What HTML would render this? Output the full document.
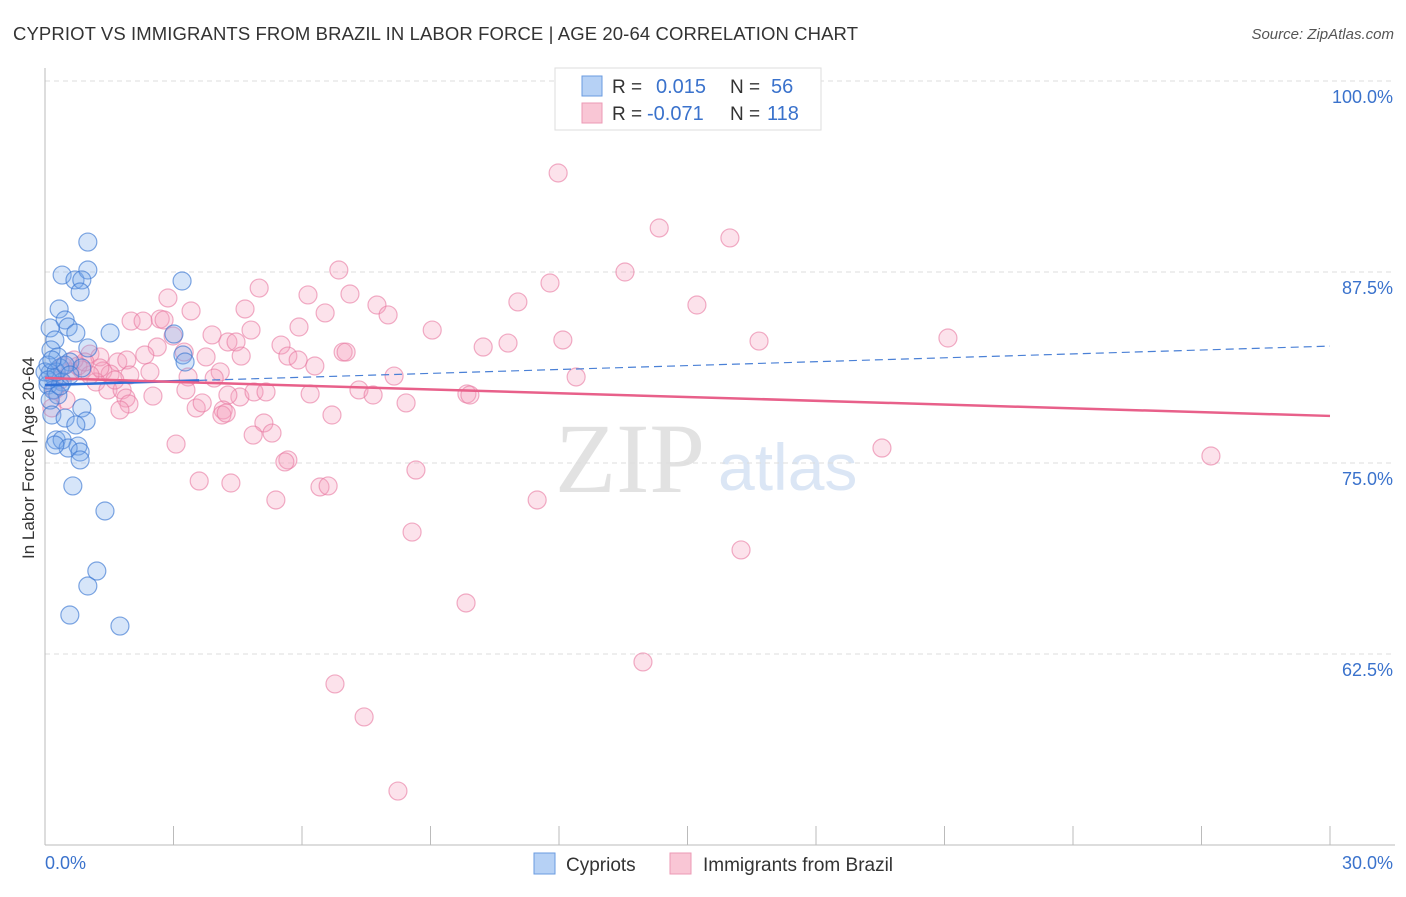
<!DOCTYPE html>
<html><head><meta charset="utf-8"><style>
body{margin:0;background:#fff;font-family:"Liberation Sans",sans-serif}
</style></head><body>
<svg id="chart" width="1406" height="892" xmlns="http://www.w3.org/2000/svg">
<text x="13" y="40" font-size="18.5" fill="#333" textLength="845" lengthAdjust="spacing">CYPRIOT VS IMMIGRANTS FROM BRAZIL IN LABOR FORCE | AGE 20-64 CORRELATION CHART</text>
<text x="1394" y="39" font-size="15" fill="#555" font-style="italic" text-anchor="end">Source: ZipAtlas.com</text>
<text x="555" y="492" font-family="Liberation Serif,serif" font-size="100" fill="#e2e2e2">ZIP</text>
<text x="718" y="490" font-size="66" fill="#dbe6f5">atlas</text>
<g id="grid"></g>
<g id="axes"></g>
<g id="marks"></g>
<text transform="translate(34,458) rotate(-90)" font-size="17" fill="#333" text-anchor="middle">In Labor Force | Age 20-64</text>
<g>
<rect x="555" y="68" width="266" height="62" fill="#fff" stroke="#ddd"/>
<rect x="582" y="76" width="20" height="20" fill="#b6d1f5" stroke="#6a9be0"/>
<rect x="582" y="103" width="20" height="20" fill="#f9c6d5" stroke="#ec9ab5"/>
<text x="612" y="93" font-size="19" fill="#333">R = </text><text x="656" y="93" font-size="20" fill="#3a72cc">0.015</text>
<text x="730" y="93" font-size="19" fill="#333">N = </text><text x="771" y="93" font-size="20" fill="#3a72cc">56</text>
<text x="612" y="120" font-size="19" fill="#333">R = </text><text x="647" y="120" font-size="20" fill="#3a72cc">-0.071</text>
<text x="730" y="120" font-size="19" fill="#333">N = </text><text x="767" y="120" font-size="20" fill="#3a72cc">118</text>
</g>
<g>
<rect x="534" y="853" width="21" height="21" fill="#b6d1f5" stroke="#6a9be0"/>
<text x="566" y="871" font-size="19" fill="#333">Cypriots</text>
<rect x="670" y="853" width="21" height="21" fill="#f9c6d5" stroke="#ec9ab5"/>
<text x="703" y="871" font-size="19" fill="#333">Immigrants from Brazil</text>
</g>
</svg>
<script>
const yTicks=[100,87.5,75,62.5];
const yTickLabels=["100.0%","87.5%","75.0%","62.5%"];
const xTickCount=[0,3,6,9,12,15,18,21,24,27,30];
const xEndLabels=["0.0%","30.0%"];
const blueX=[1.00,0.40,0.70,1.00,0.86,0.82,3.20,0.33,0.47,0.54,0.12,0.72,1.52,0.23,1.00,0.14,3.22,0.30,0.58,3.27,0.07,0.35,0.86,0.12,0.23,0.40,0.07,0.19,0.30,0.12,0.86,0.16,0.47,0.96,0.72,0.26,0.40,0.77,0.54,0.23,0.82,0.82,0.65,1.40,1.21,1.00,0.58,1.75,3.01,0.35,0.00,0.07,0.26,0.47,0.58,0.16];
const blueY=[89.46,87.30,86.98,87.63,86.98,86.19,86.91,85.08,84.36,83.90,83.84,83.51,83.51,83.05,82.53,82.40,82.07,81.94,81.61,81.61,81.41,81.22,81.22,80.89,80.56,80.30,80.10,79.78,79.45,79.12,78.60,78.14,77.94,77.75,77.49,76.51,76.51,76.11,75.98,76.18,75.72,75.20,73.50,71.86,67.93,66.95,65.05,64.33,83.44,80.04,80.96,80.43,80.96,81.41,80.76,81.74];
const pinkX=[11.98,14.34,15.99,13.54,11.79,6.86,2.87,5.00,6.14,7.12,11.04,15.22,3.41,7.75,4.67,6.54,8.01,2.01,2.29,2.69,2.78,5.93,9.04,3.90,4.81,2.99,12.09,21.08,16.67,4.27,4.46,5.51,10.81,10.23,2.62,2.33,3.25,3.76,4.58,5.67,5.91,6.96,7.03,1.70,1.05,1.28,1.91,2.45,4.09,6.30,8.15,12.40,1.35,1.52,3.95,1.98,3.34,1.19,1.47,1.80,1.89,2.52,3.29,4.55,4.88,5.16,4.27,7.33,7.66,6.19,8.43,9.85,9.92,1.96,3.53,3.67,4.16,4.13,4.23,6.70,5.11,4.86,5.30,1.75,3.06,19.54,27.22,5.67,5.60,8.66,3.60,4.34,5.39,6.42,6.61,11.49,8.57,16.25,9.83,13.96,6.77,7.45,8.24,0.86,0.58,0.77,0.35,1.28,0.23,1.05,0.42,1.63,0.68,0.49,0.16,0.93];
const pinkY=[93.98,90.38,89.73,87.50,86.78,87.63,85.80,86.45,86.00,86.06,85.54,85.34,84.95,85.34,85.08,84.82,84.69,84.29,84.29,84.42,84.36,83.90,83.70,83.38,83.70,83.31,83.05,83.18,82.98,82.92,82.92,82.72,82.85,82.59,82.59,82.07,82.26,81.94,82.00,82.00,81.74,82.26,82.26,81.61,82.13,81.94,81.74,80.96,80.96,81.35,80.69,80.63,81.02,80.82,80.56,80.76,80.63,80.30,79.78,79.78,79.25,79.38,79.78,79.32,79.65,79.65,79.45,79.78,79.45,79.52,78.93,79.52,79.45,78.86,78.60,78.93,78.47,78.14,78.27,78.14,77.62,76.83,76.96,78.47,76.24,75.98,75.46,75.20,75.07,74.54,73.82,73.69,72.58,73.43,73.50,72.58,70.48,69.31,65.84,61.98,60.54,58.38,53.53,81.09,80.96,81.35,80.43,81.22,79.78,80.76,81.35,80.43,81.74,79.12,78.60,81.61];
const blueTrend=[80.10,82.65];
const pinkTrend=[80.56,78.08];
const NS="http://www.w3.org/2000/svg";
const sx=v=>45+v/30*1285;
const sy=v=>81+(100-v)/12.5*191;
function mk(tag,attrs,parent){const e=document.createElementNS(NS,tag);for(const k in attrs)e.setAttribute(k,attrs[k]);parent.appendChild(e);return e;}
const grid=document.getElementById('grid'),axes=document.getElementById('axes'),marks=document.getElementById('marks');
yTicks.forEach((t,i)=>{
 const l=mk('line',{x1:45,x2:1395,y1:sy(t),y2:sy(t),stroke:'#ddd','stroke-dasharray':'5,4'},grid);
 
 
 const tx=mk('text',{x:1393,y:sy(t)+22,'font-size':18,fill:'#3a72cc','text-anchor':'end'},axes);
 tx.textContent=yTickLabels[i];
 
 
});
const ya=mk('line',{x1:45,x2:45,y1:68,y2:845,stroke:'#bbb'},axes);


const xa=mk('line',{x1:45,x2:1395,y1:845,y2:845,stroke:'#bbb'},axes);


xTickCount.forEach(t=>{
 const l=mk('line',{x1:sx(t),x2:sx(t),y1:826,y2:845,stroke:'#bbb'},axes);
 
 
});
const xl0=mk('text',{x:45,y:869,'font-size':18,fill:'#3a72cc'},axes);xl0.textContent=xEndLabels[0];


const xl1=mk('text',{x:1393,y:869,'font-size':18,fill:'#3a72cc','text-anchor':'end'},axes);xl1.textContent=xEndLabels[1];


pinkX.forEach((x,i)=>{
 const c=mk('circle',{cx:sx(x),cy:sy(pinkY[i]),r:9,fill:'rgba(244,160,188,0.3)',stroke:'rgba(232,120,160,0.6)','stroke-width':1.2},marks);
 
 
});
blueX.forEach((x,i)=>{
 const c=mk('circle',{cx:sx(x),cy:sy(blueY[i]),r:9,fill:'rgba(120,170,235,0.3)',stroke:'rgba(60,120,210,0.65)','stroke-width':1.2},marks);
 
 
});
const bAt=v=>blueTrend[0]+(blueTrend[1]-blueTrend[0])*v/30;
const b1=mk('line',{x1:sx(0),y1:sy(bAt(0)),x2:sx(3.6),y2:sy(bAt(3.6)),stroke:'#2f6fd6','stroke-width':2.5},marks);


const b2=mk('line',{x1:sx(3.6),y1:sy(bAt(3.6)),x2:sx(30),y2:sy(bAt(30)),stroke:'#4a80d6','stroke-width':1.2,'stroke-dasharray':'8,5'},marks);


const p1=mk('line',{x1:sx(0),y1:sy(pinkTrend[0]),x2:sx(30),y2:sy(pinkTrend[1]),stroke:'#e8608a','stroke-width':2.5},marks);


</script>
</body></html>
